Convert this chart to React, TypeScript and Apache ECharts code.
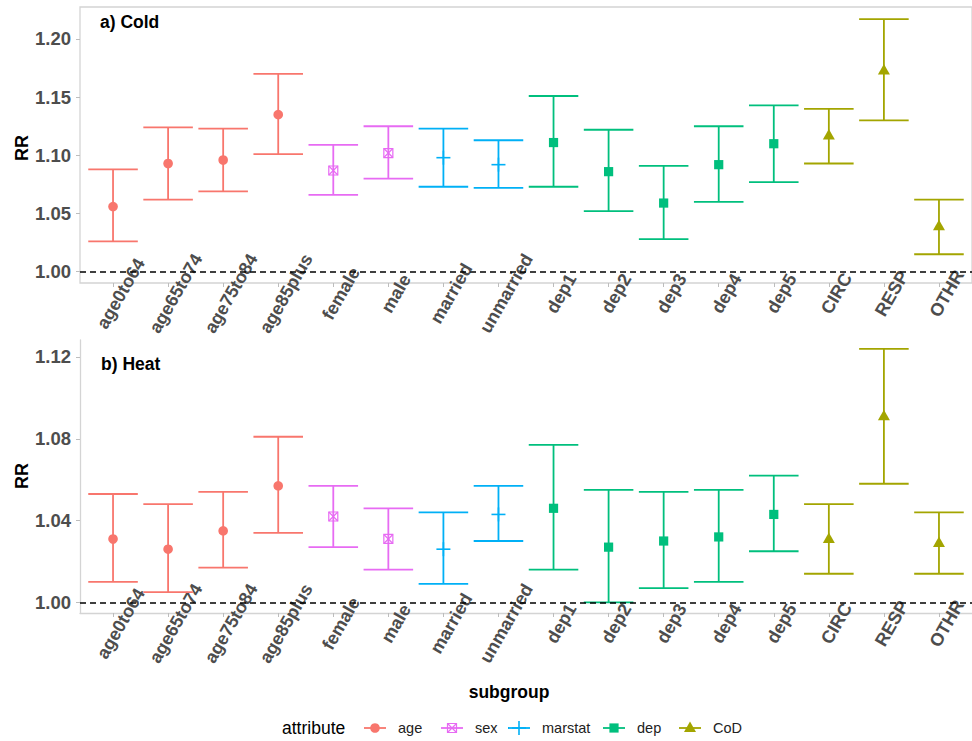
import React, { useEffect, useRef } from 'react';
import * as echarts from 'echarts';

const categories = ['age0to64', 'age65to74', 'age75to84', 'age85plus', 'female', 'male', 'married', 'unmarried', 'dep1', 'dep2', 'dep3', 'dep4', 'dep5', 'CIRC', 'RESP', 'OTHR'];
const attributeOf = ['age', 'age', 'age', 'age', 'sex', 'sex', 'marstat', 'marstat', 'dep', 'dep', 'dep', 'dep', 'dep', 'CoD', 'CoD', 'CoD'];
const attributes = ['age', 'sex', 'marstat', 'dep', 'CoD'];
const attributeColors = ['#F8766D', '#E76BF3', '#00B0F6', '#00BF7D', '#A3A500'];

const coldRR = [1.056, 1.093, 1.096, 1.135, 1.087, 1.102, 1.098, 1.092, 1.111, 1.086, 1.059, 1.092, 1.110, 1.117, 1.173, 1.039];
const coldLow = [1.026, 1.062, 1.069, 1.101, 1.066, 1.080, 1.073, 1.072, 1.073, 1.052, 1.028, 1.060, 1.077, 1.093, 1.130, 1.015];
const coldHigh = [1.088, 1.124, 1.123, 1.170, 1.109, 1.125, 1.123, 1.113, 1.151, 1.122, 1.091, 1.125, 1.143, 1.140, 1.217, 1.062];

const heatRR = [1.031, 1.026, 1.035, 1.057, 1.042, 1.031, 1.026, 1.043, 1.046, 1.027, 1.030, 1.032, 1.043, 1.031, 1.091, 1.029];
const heatLow = [1.010, 1.005, 1.017, 1.034, 1.027, 1.016, 1.009, 1.030, 1.016, 1.000, 1.007, 1.010, 1.025, 1.014, 1.058, 1.014];
const heatHigh = [1.053, 1.048, 1.054, 1.081, 1.057, 1.046, 1.044, 1.057, 1.077, 1.055, 1.054, 1.055, 1.062, 1.048, 1.124, 1.044];

const coldTicks = [1.0, 1.05, 1.1, 1.15, 1.2];
const heatTicks = [1.0, 1.04, 1.08, 1.12];

const FONT = '"Liberation Sans", Arial, Helvetica, sans-serif';
const AXIS_GREY = '#4D4D4D';
const LINE_GREY = '#D4D4D4';

function symbolShapes(attr: string, cx: number, cy: number, color: string): any[] {
  switch (attr) {
    case 'age':
      return [{ type: 'circle', shape: { cx, cy, r: 4.8 }, style: { fill: color } }];
    case 'sex':
      return [
        { type: 'rect', shape: { x: cx - 4.5, y: cy - 4.5, width: 9, height: 9 }, style: { fill: 'none', stroke: color, lineWidth: 1.2 } },
        { type: 'line', shape: { x1: cx - 4.5, y1: cy - 4.5, x2: cx + 4.5, y2: cy + 4.5 }, style: { stroke: color, lineWidth: 1.2 } },
        { type: 'line', shape: { x1: cx - 4.5, y1: cy + 4.5, x2: cx + 4.5, y2: cy - 4.5 }, style: { stroke: color, lineWidth: 1.2 } },
      ];
    case 'marstat':
      return [
        { type: 'line', shape: { x1: cx - 7, y1: cy, x2: cx + 7, y2: cy }, style: { stroke: color, lineWidth: 1.6 } },
        { type: 'line', shape: { x1: cx, y1: cy - 7, x2: cx, y2: cy + 7 }, style: { stroke: color, lineWidth: 1.6 } },
      ];
    case 'dep':
      return [{ type: 'rect', shape: { x: cx - 4.6, y: cy - 4.6, width: 9.2, height: 9.2 }, style: { fill: color } }];
    default:
      return [{ type: 'polygon', shape: { points: [[cx, cy - 6.5], [cx - 6, cy + 4], [cx + 6, cy + 4]] }, style: { fill: color } }];
  }
}

function makeSeries(gridIdx: number, rr: number[], lo: number[], hi: number[]) {
  return attributes.map((attr, k) => {
    const color = attributeColors[k];
    const data: number[][] = [];
    categories.forEach((_, i) => {
      if (attributeOf[i] === attr) data.push([i, lo[i], rr[i], hi[i]]);
    });
    const s: any = {
      type: 'custom',
      name: attr,
      xAxisIndex: gridIdx,
      yAxisIndex: gridIdx,
      data,
      encode: { x: 0, y: [1, 2, 3] },
      renderItem: (params: any, api: any) => {
        const x = api.value(0);
        const pLo = api.coord([x, api.value(1)]);
        const pRR = api.coord([x, api.value(2)]);
        const pHi = api.coord([x, api.value(3)]);
        const hw = api.size([1, 0])[0] * 0.45;
        const st = { stroke: color, lineWidth: 1.8 };
        return {
          type: 'group',
          children: [
            { type: 'line', shape: { x1: pLo[0], y1: pLo[1], x2: pHi[0], y2: pHi[1] }, style: st },
            { type: 'line', shape: { x1: pLo[0] - hw, y1: pLo[1], x2: pLo[0] + hw, y2: pLo[1] }, style: st },
            { type: 'line', shape: { x1: pHi[0] - hw, y1: pHi[1], x2: pHi[0] + hw, y2: pHi[1] }, style: st },
            ...symbolShapes(attr, pRR[0], pRR[1], color),
          ],
        };
      },
    };
    if (k === 0) {
      s.markLine = {
        silent: true,
        symbol: 'none',
        label: { show: false },
        lineStyle: { color: '#000', type: [6, 4], width: 1.5 },
        data: [{ yAxis: 1 }],
      };
    }
    return s;
  });
}

function xAxisFor(gridIdx: number, showLine: boolean) {
  const idx = categories.map((_, i) => i);
  return {
    type: 'value',
    gridIndex: gridIdx,
    min: -0.6,
    max: 15.6,
    splitLine: { show: false },
    axisLine: { show: showLine, onZero: false, lineStyle: { color: LINE_GREY, width: 1.3 } },
    axisTick: { show: true, customValues: idx, length: 4, lineStyle: { color: '#BDBDBD', width: 1 } },
    axisLabel: {
      customValues: idx,
      formatter: (v: number) => categories[Math.round(v)],
      rotate: 60,
      align: 'center',
      verticalAlign: 'top',
      margin: 6,
      fontSize: 18,
      fontWeight: 'bold',
      color: AXIS_GREY,
      fontFamily: FONT,
    },
  };
}

function yAxisFor(gridIdx: number, min: number, max: number, ticks: number[], showLine: boolean) {
  return {
    type: 'value',
    gridIndex: gridIdx,
    min,
    max,
    splitLine: { show: false },
    axisLine: { show: showLine, onZero: false, lineStyle: { color: LINE_GREY, width: 1.3 } },
    axisTick: { show: true, customValues: ticks, length: 4, lineStyle: { color: '#BDBDBD', width: 1 } },
    axisLabel: {
      customValues: ticks,
      formatter: (v: number) => v.toFixed(2),
      margin: 9,
      fontSize: 18.5,
      fontWeight: 'bold',
      color: AXIS_GREY,
      fontFamily: FONT,
    },
  };
}

function legendGraphic() {
  const keyCenters = [375, 452, 519, 614, 690];
  const cy = 728;
  const children: any[] = [
    { type: 'text', x: 282, y: cy, style: { text: 'attribute', fontSize: 17.5, fontFamily: FONT, fill: '#000', verticalAlign: 'middle', align: 'left' } },
  ];
  attributes.forEach((attr, k) => {
    const cx = keyCenters[k];
    const color = attributeColors[k];
    children.push({ type: 'line', shape: { x1: cx - 11, y1: cy, x2: cx + 11, y2: cy }, style: { stroke: color, lineWidth: 1.8 } });
    symbolShapes(attr, cx, cy, color).forEach((s) => children.push(s));
    children.push({ type: 'text', x: cx + 23, y: cy, style: { text: attr, fontSize: 14.5, fontFamily: FONT, fill: '#222', verticalAlign: 'middle', align: 'left' } });
  });
  return children;
}

function rrTitle(cy: number) {
  return {
    type: 'text',
    x: 22,
    y: cy,
    rotation: Math.PI / 2,
    style: { text: 'RR', fontSize: 18, fontWeight: 'bold', fontFamily: FONT, fill: '#000', align: 'center', verticalAlign: 'middle' },
  };
}

export default function App() {
  const ref = useRef<HTMLDivElement>(null);
  useEffect(() => {
    if (!ref.current) return;
    const chart = echarts.init(ref.current, undefined, { renderer: 'svg' });
    const option: any = {
      animation: false,
      backgroundColor: '#fff',
      grid: [
        { left: 80, top: 7, width: 895, height: 276, show: true, borderColor: LINE_GREY, borderWidth: 1.3, backgroundColor: 'transparent' },
        { left: 80, top: 340, width: 895, height: 273, show: false },
      ],
      xAxis: [xAxisFor(0, false), xAxisFor(1, true)],
      yAxis: [
        yAxisFor(0, 0.9903, 1.2275, coldTicks, false),
        yAxisFor(1, 0.9948, 1.1283, heatTicks, true),
      ],
      series: [...makeSeries(0, coldRR, coldLow, coldHigh), ...makeSeries(1, heatRR, heatLow, heatHigh)],
      graphic: [
        rrTitle(148),
        rrTitle(476),
        { type: 'text', x: 100, y: 22, style: { text: 'a) Cold', fontSize: 17.5, fontWeight: 'bold', fontFamily: FONT, fill: '#000', verticalAlign: 'middle' } },
        { type: 'text', x: 101, y: 364, style: { text: 'b) Heat', fontSize: 17.5, fontWeight: 'bold', fontFamily: FONT, fill: '#000', verticalAlign: 'middle' } },
        { type: 'text', x: 509, y: 692, style: { text: 'subgroup', fontSize: 17.5, fontWeight: 'bold', fontFamily: FONT, fill: '#000', verticalAlign: 'middle', align: 'center' } },
        { type: 'group', children: legendGraphic() },
      ],
    };
    chart.setOption(option);
    return () => chart.dispose();
  }, []);
  return <div ref={ref} style={{ position: 'fixed', left: 0, top: 0, width: 972, height: 741 }} />;
}
